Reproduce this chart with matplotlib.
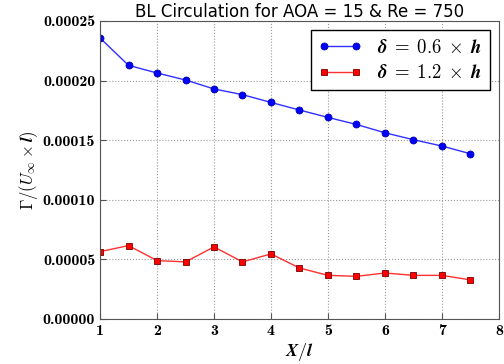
import matplotlib
matplotlib.use("Agg")
import matplotlib.pyplot as plt
from matplotlib.ticker import FuncFormatter

plt.rcParams['mathtext.fontset'] = 'cm'

x = [1.0, 1.5, 2.0, 2.5, 3.0, 3.5, 4.0, 4.5, 5.0, 5.5, 6.0, 6.5, 7.0, 7.5]
delta_06 = [0.0002358, 0.0002128, 0.0002064, 0.0002005, 0.0001930, 0.0001882, 0.0001817,
            0.0001753, 0.0001691, 0.0001632, 0.0001562, 0.0001504, 0.0001451, 0.0001386]
delta_12 = [0.0000565, 0.0000616, 0.0000490, 0.0000479, 0.0000605, 0.0000479, 0.0000546,
            0.0000428, 0.0000366, 0.0000358, 0.0000386, 0.0000366, 0.0000366, 0.0000328]
xticks = [1, 2, 3, 4, 5, 6, 7, 8]
yticks = [0.0, 0.00005, 0.0001, 0.00015, 0.0002, 0.00025]

fig = plt.figure(figsize=(5.04, 3.64), dpi=100)
ax = fig.add_axes([100/504, 1 - 319/364, 399/504, 298/364])

ax.plot(x, delta_06, '-o', color='#3030ff', lw=1.0, ms=5, mfc='blue', mec='#0000aa', mew=0.6,
        label=r'$\boldsymbol{\delta\;=\;0.6\;\times\;h}$')
ax.plot(x, delta_12, '-s', color='#ff3030', lw=1.0, ms=5, mfc='red', mec='#770000', mew=0.6,
        label=r'$\boldsymbol{\delta\;=\;1.2\;\times\;h}$')

ax.set_xlim(1, 8)
ax.set_ylim(0, 0.00025)
ax.set_xticks(xticks)
ax.set_yticks(yticks)
ax.xaxis.set_major_formatter(FuncFormatter(lambda v, p: '%d' % v))
ax.yaxis.set_major_formatter(FuncFormatter(lambda v, p: '%.5f' % v))
ax.tick_params(direction='in', labelsize=11.5, length=4, colors='#555555', labelcolor='black')
for lab in ax.get_xticklabels() + ax.get_yticklabels():
    lab.set_family('cmb10')
ax.grid(True, ls=':', color='#999999', lw=0.8)
for s in ax.spines.values():
    s.set_color('#555555')

ax.set_title('BL Circulation for AOA = 15 & Re = 750', fontsize=12, pad=3)
ax.set_xlabel(r'$\boldsymbol{X/l}$', fontsize=13, labelpad=2)
ax.set_ylabel(r'$\boldsymbol{\Gamma/(U_\infty \times l)}$', fontsize=12, labelpad=2)

leg = ax.legend(loc='upper right', fontsize=13.5, numpoints=2, fancybox=False,
                edgecolor='black', framealpha=1, borderaxespad=0.5, handlelength=2.3,
                labelspacing=0.35)
leg.get_frame().set_linewidth(1.0)

fig.savefig('out.png', dpi=100)
